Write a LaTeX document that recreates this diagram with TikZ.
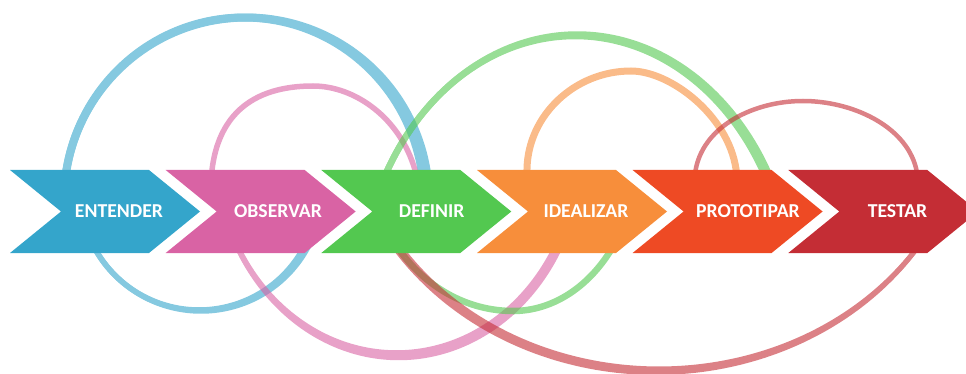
\documentclass[tikz,border=0pt]{standalone}
\usepackage{fontspec}
\setmainfont{Carlito}
\begin{document}
\begin{tikzpicture}[x=1pt,y=-1pt]
\definecolor{cBlue}{HTML}{34A5CB}
\definecolor{cPink}{HTML}{D963A4}
\definecolor{cGreen}{HTML}{53C850}
\definecolor{cOrange}{HTML}{F78E3B}
\definecolor{cRedO}{HTML}{EE4A24}
\definecolor{cRed}{HTML}{C42D35}
\tikzset{
  lbl/.style={text=white, font=\bfseries\fontsize{19.7}{22}\selectfont, inner sep=0pt},
  loopgrp/.style={transparency group, opacity=0.6},
  arc/.style={draw=#1, line width=6.5pt},
  ep/.style={samples=90, variable=\t}
}
\useasboundingbox (0,0) rectangle (966,374);
\clip (0,0) rectangle (966,374);

% ---- blue loop ----
\begin{scope}[loopgrp]
  \draw[arc=cBlue, line width=8pt] plot[ep, domain=-174.3:-5.7] ({244+180*cos(\t)},{200+182.5*sin(\t)});
  \draw[arc=cBlue, line width=8pt] plot[ep, domain=-174.3:-5.7] ({246.5+182.5*cos(\t)},{200+182.5*sin(\t)});
\end{scope}
\begin{scope}[loopgrp]
  \draw[arc=cBlue, line width=5.5pt] plot[ep, domain=25.9:154.1] ({199+119*cos(\t)},{191+119*sin(\t)});
  \draw[arc=cBlue, line width=5.5pt] plot[ep, domain=25.9:154.1] ({201+121.2*cos(\t)},{190.2+120.8*sin(\t)});
\end{scope}

% ---- pink loop ----
\begin{scope}[loopgrp]
  \draw[arc=cPink, line width=5.5pt] (211.5,183) -- (212,170) .. controls (217,128) and (240,86) .. (313,86)
        .. controls (355,86) and (400,118) .. (415,170) -- ++(3.4,13);
\end{scope}
\begin{scope}[loopgrp]
  \draw[arc=cPink, line width=5.5pt] plot[ep, domain=27.3:152.7] ({396.5+181*cos(\t)},{150+203*sin(\t)});
  \draw[arc=cPink, line width=5.5pt] plot[ep, domain=27.3:152.7] ({398.7+183.5*cos(\t)},{146.3+211.2*sin(\t)});
\end{scope}

% ---- green loop ----
\begin{scope}[loopgrp]
  \draw[arc=cGreen] plot[ep, domain=-153.45:-26.55] ({575+215.4*cos(\t)},{300+264*sin(\t)});
  \draw[arc=cGreen] plot[ep, domain=-153.45:-26.55] ({577.25+217.9*cos(\t)},{301.2+266.7*sin(\t)});
\end{scope}
\begin{scope}[loopgrp]
  \draw[arc=cGreen] plot[ep, domain=35.3:90] ({513+125*cos(\t)},{150+161*sin(\t)})
        -- plot[ep, domain=90:144.7] ({513+145*cos(\t)},{150+161*sin(\t)});
\end{scope}

% ---- orange loop ----
\begin{scope}[loopgrp]
  \draw[arc=cOrange, line width=7pt] (526.7,182) -- (527,169) .. controls (528,115) and (575,71) .. (631,71)
        .. controls (670,71) and (728,115) .. (736,169) -- ++(2,13);
\end{scope}

% ---- red loop ----
\begin{scope}[loopgrp]
  \draw[arc=cRed, line width=4.5pt] (693.3,182) -- (696,168) .. controls (705,125) and (755,101) .. (803,101)
        .. controls (851,101) and (905,125) .. (916,168) -- ++(2.7,13);
\end{scope}
\begin{scope}[loopgrp]
  \draw[arc=cRed, line width=5pt] plot[ep, domain=32.1:147.9] ({659+309*cos(\t)},{100+269*sin(\t)});
  \draw[arc=cRed, line width=5pt] plot[ep, domain=32.1:147.9] ({656+312.5*cos(\t)},{96+276.5*sin(\t)});
\end{scope}

% ---- chevrons ----
\foreach \L/\c in {10/cBlue, 165.66/cPink, 321.3/cGreen, 477/cOrange, 632.6/cRedO, 788.3/cRed}{
  \fill[\c] (\L,170) -- ++(139,0) -- ++(51,41.5) -- ++(-51,41.5) -- ++(-139,0) -- ++(51,-41.5) -- cycle;
}

% ---- labels ----
\node[lbl] (entender)   at (119,211.5)   {ENTENDER};
\node[lbl] (observar)   at (278,211.5)   {OBSERVAR};
\node[lbl] (definir)    at (431.7,211.5) {DEFINIR};
\node[lbl] (idealizar)  at (586,211.5)   {IDEALIZAR};
\node[lbl] (prototipar) at (748,211.5)   {PROTOTIPAR};
\node[lbl] (testar)     at (897.5,211.5) {TESTAR};
\end{tikzpicture}
\end{document}
